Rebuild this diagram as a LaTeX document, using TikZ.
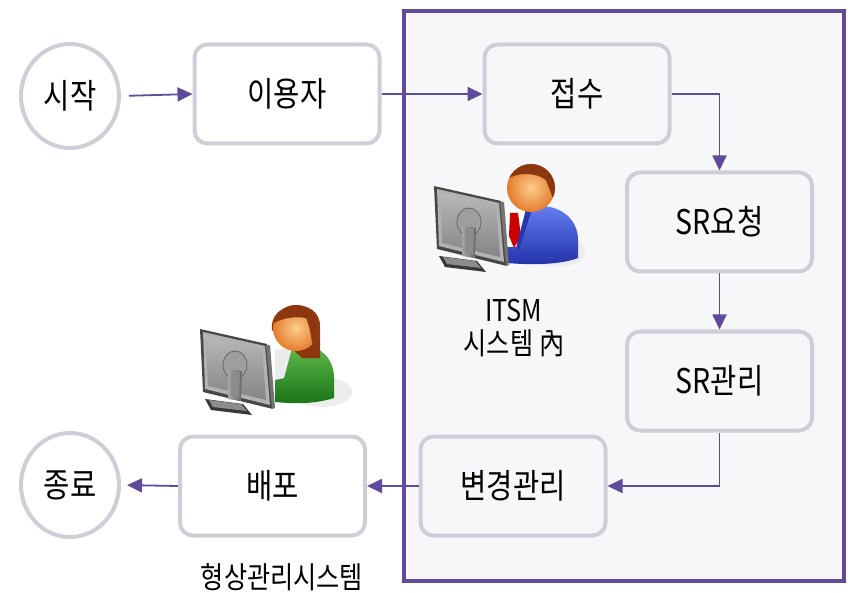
\documentclass[tikz,border=0pt]{standalone}
\usepackage{fontspec}
\setmainfont[FakeStretch=0.84]{Noto Sans CJK KR}
\usetikzlibrary{arrows.meta,shapes.geometric}

\definecolor{flow}{RGB}{96,74,156}
\definecolor{rim}{RGB}{206,206,216}
\definecolor{panel}{RGB}{247,247,250}
\definecolor{hairbrown}{RGB}{140,55,15}
\definecolor{skinlight}{RGB}{252,205,140}
\definecolor{skindark}{RGB}{228,125,45}
\definecolor{suitlight}{RGB}{100,125,238}
\definecolor{suitdark}{RGB}{35,50,170}
\definecolor{lapel}{RGB}{40,55,175}
\definecolor{shirtlight}{RGB}{95,185,75}
\definecolor{shirtdark}{RGB}{25,115,25}

\tikzset{
  stepbox/.style={draw=rim, line width=4pt, rounded corners=13pt,
    minimum width=185pt, minimum height=99pt, inner sep=0pt,
    font=\fontsize{34}{34}\selectfont},
  terminal/.style={draw=rim, line width=4pt, ellipse, fill=white,
    minimum width=98pt, minimum height=104pt, inner sep=0pt,
    font=\fontsize{34}{34}\selectfont},
  caption/.style={font=\fontsize{30}{33}\selectfont, align=center, inner sep=0pt},
  conn/.style={draw=flow, line width=1.8pt,
    -{Triangle[length=15pt,width=14pt]}},
  % a monitor seen from behind, anchored at its top-left corner
  monitor/.pic={
    \fill[black!72] (0,0) -- (67,15) -- (73,80) -- (3,63) -- cycle;
    \fill[black!30] (3,3) -- (65,17) -- (70,76) -- (5,60) -- cycle;
    \shade[top color=black!28, bottom color=black!48] (6,7) -- (62,19) -- (66,71) -- (8,57) -- cycle;
    \fill[black!55] (66,16) -- (70,16) -- (75,79) -- (72,80) -- cycle;
    \fill[black!38, draw=black!60, line width=0.8pt] (35,36) ellipse (12 and 14);
    \shade[left color=black!35, right color=black!60] (28,40) -- (42,42) -- (41,72) -- (28,70) -- cycle;
    \fill[black!45] (31,42) -- (40,43) -- (39,68) -- (31,66) -- cycle;
    \fill[black!78] (5,70) -- (43,75) -- (52,86) -- (11,81) -- cycle;
    \fill[black!45] (9,71) -- (41,75) -- (47,82) -- (13,78) -- cycle;
  }
}

\begin{document}
\begin{tikzpicture}[x=1pt,y=-1pt]
\useasboundingbox (0,0) rectangle (848,593);

% system frame
\draw[flow, line width=4.5pt, fill=panel] (404,11) rectangle (844,581);

% operator inside the system
\fill[black!7] (556,252) ellipse (30 and 15);
\shade[top color=suitlight, bottom color=suitdark]
  (507,263) -- (507,228) .. controls (507,212) and (522,206) .. (540,206)
  .. controls (562,206) and (578,220) .. (578,240) -- (578,258)
  .. controls (560,265) and (530,265) .. (507,263) -- cycle;
\fill[white] (506,209) -- (526,209) -- (519,247) -- (506,247) -- cycle;
\fill[red!80!black] (510,213) -- (518,213) -- (521,236) -- (514,248) -- (509,236) -- cycle;
\fill[lapel] (526,209) -- (531,212) -- (519,250) -- (516,248) -- cycle;
\shade[inner color=skinlight, outer color=skindark] (531,188) circle (24);
\begin{scope}
  \clip (531,188) circle (24);
  \fill[hairbrown] (500,158) -- (565,158) -- (565,205) -- (556,205)
    .. controls (552,196) and (549,188) .. (546,180)
    .. controls (535,172) and (518,172) .. (505,180) -- cycle;
\end{scope}
\pic at (434,186) {monitor};

% operator at the configuration system
\fill[black!7] (322,392) ellipse (30 and 15);
\shade[top color=shirtlight, bottom color=shirtdark]
  (275,402) -- (275,366) .. controls (275,352) and (288,346) .. (304,346)
  .. controls (322,346) and (334,360) .. (334,378) -- (334,398)
  .. controls (315,404) and (295,404) .. (275,402) -- cycle;
\fill[white!92!black] (275,350) -- (292,348) -- (284,378) -- (275,380) -- cycle;
\fill[hairbrown] (272,330) .. controls (268,300) and (320,296) .. (320,326)
  -- (320,358) -- (302,358) -- cycle;
\shade[inner color=skinlight, outer color=skindark] (296,328) circle (23);
\begin{scope}
  \clip (296,328) circle (23);
  \fill[hairbrown] (268,300) -- (325,300) -- (325,360) -- (314,360)
    .. controls (312,340) and (310,326) .. (306,318)
    .. controls (295,316) and (282,318) .. (272,324) -- cycle;
\end{scope}
\pic at (200,329) {monitor};

% process steps
\node[terminal] (start) at (70,96) {시작};
\node[stepbox, fill=white] (user) at (287,94) {이용자};
\node[stepbox, fill=panel] (receive) at (577,94) {접수};
\node[stepbox, fill=panel] (request) at (719.5,222) {SR요청};
\node[stepbox, fill=panel] (srmanage) at (719.5,381) {SR관리};
\node[stepbox, fill=panel] (change) at (513,486) {변경관리};
\node[stepbox, fill=white] (deploy) at (272.5,486) {배포};
\node[terminal] (finish) at (70,485) {종료};

% captions
\node[caption] (itsm) at (514,328) {ITSM\\시스템 內};
\node[caption] (cms) at (282,577) {형상관리시스템};

% connectors
\draw[conn, shorten <=8pt] (start.east) -- (user.west);
\draw[conn] (user.east) -- (receive.west);
\draw[conn] (receive.east) -| (request.north);
\draw[conn] (request.south) -- (srmanage.north);
\draw[conn] (srmanage.south) |- (change.east);
\draw[conn] (change.west) -- (deploy.east);
\draw[conn, shorten >=6pt] (deploy.west) -- (finish.east);
\end{tikzpicture}
\end{document}
